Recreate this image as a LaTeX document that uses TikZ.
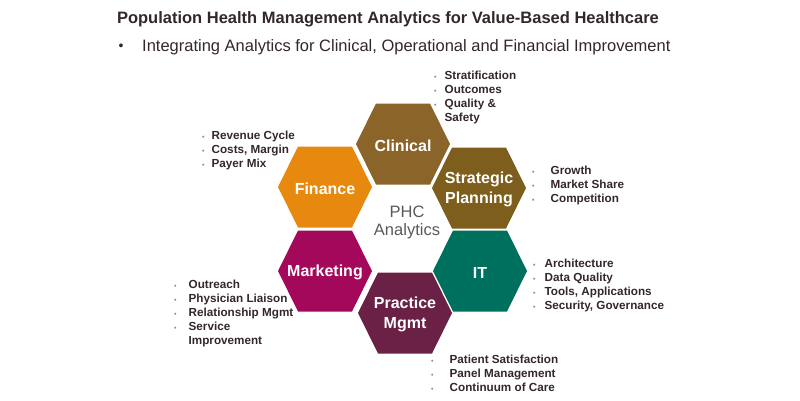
\documentclass[tikz,border=0pt]{standalone}
\usepackage{fontspec}
\setmainfont{Liberation Sans}
\usepackage{tikz}

\definecolor{clinbrown}{HTML}{8A6428}
\definecolor{stratbrown}{HTML}{7E5E1C}
\definecolor{finorange}{HTML}{E8890F}
\definecolor{mktpurple}{HTML}{A3085A}
\definecolor{itteal}{HTML}{00705E}
\definecolor{pracmaroon}{HTML}{6A2145}
\definecolor{inkdark}{HTML}{33262E}
\definecolor{bulgray}{HTML}{8C8C8C}

\newcommand{\bul}{\textcolor{bulgray}{\scriptsize\textbullet}}
\newcommand{\bulletlist}[2]{\begin{tabular}{@{}c@{\hspace{#1}}l@{}}#2\end{tabular}}

\begin{document}
\begin{tikzpicture}[x=1pt,y=-1pt]
		\tikzstyle{hex label}=[text=white, font=\bfseries\fontsize{16}{20}\selectfont, align=center, inner sep=0pt]
		\tikzstyle{item list}=[anchor=north west, inner sep=0pt, text=inkdark, font=\bfseries\fontsize{11.7}{14}\selectfont]

		\useasboundingbox (0,0) rectangle (800,400);

		% heading
		\node [text=inkdark, font=\bfseries\fontsize{16.5}{20}\selectfont] (title) at (388,19) {Population Health Management Analytics for Value-Based Healthcare};
		\node [text=inkdark, font=\fontsize{14}{16}\selectfont] (subbul) at (121,47) {\textbullet};
		\node [text=inkdark, font=\fontsize{16.5}{20}\selectfont, anchor=west, inner sep=0pt] (subtitle) at (142,47) {Integrating Analytics for Clinical, Operational and Financial Improvement};

		% hexagons
		\foreach \nm/\cx/\cy/\col/\txt in {clinical/403/144/clinbrown/Clinical, finance/325/187/finorange/Finance, strategic/479/188/stratbrown/{Strategic\\Planning}, marketing/325/271/mktpurple/Marketing, it/480/271/itteal/IT, practice/405/313/pracmaroon/{Practice\\Mgmt}}
		{
			\fill [\col] (\cx-47,\cy) -- ++(20,-40.5) -- ++(54,0) -- ++(20,40.5) -- ++(-20,40.5) -- ++(-54,0) -- cycle;
			\node [hex label] (\nm) at (\cx,\cy+1.5) {\txt};
		}

		\node [text=black!65, font=\fontsize{16.5}{18}\selectfont, align=center] (phc) at (407,222) {PHC\\Analytics};

		% lists
		\node [item list] (clinlist) at (434,69) {\bulletlist{8pt}{\bul & Stratification\\ \bul & Outcomes\\ \bul & Quality \&\\ & Safety}};
		\node [item list] (finlist) at (202,129) {\bulletlist{7pt}{\bul & Revenue Cycle\\ \bul & Costs, Margin\\ \bul & Payer Mix}};
		\node [item list] (stratlist) at (532,164) {\bulletlist{16pt}{\bul & Growth\\ \bul & Market Share\\ \bul & Competition}};
		\node [item list] (itlist) at (533,257) {\bulletlist{9pt}{\bul & Architecture\\ \bul & Data Quality\\ \bul & Tools, Applications\\ \bul & Security, Governance}};
		\node [item list] (mktlist) at (174,278) {\bulletlist{12pt}{\bul & Outreach\\ \bul & Physician Liaison\\ \bul & Relationship Mgmt\\ \bul & Service\\ & Improvement}};
		\node [item list] (praclist) at (431,353) {\bulletlist{16pt}{\bul & Patient Satisfaction\\ \bul & Panel Management\\ \bul & Continuum of Care}};
	\end{tikzpicture}
\end{document}
